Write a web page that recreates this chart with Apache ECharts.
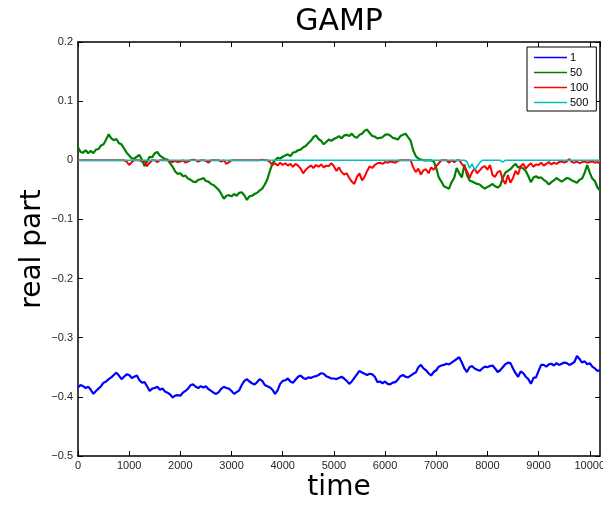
<!DOCTYPE html>
<html>
<head>
<meta charset="utf-8">
<script src="https://cdn.jsdelivr.net/npm/echarts@6/dist/echarts.min.js"></script>
<style>html,body{margin:0;padding:0;background:#fff;overflow:hidden}#c{width:603px;height:506px}</style>
</head>
<body>
<div id="c"></div>
<script>
// sampling step of the traces (time units)
const step = 50;
const seriesNames = ['1', '50', '100', '500'];
const xTicks = [0, 1000, 2000, 3000, 4000, 5000, 6000, 7000, 8000, 9000, 10000];
const yTicks = [-0.5, -0.4, -0.3, -0.2, -0.1, 0, 0.1, 0.2];

// series "1" (blue)
const s1 = [
  -0.384, -0.380, -0.382, -0.385, -0.383, -0.388, -0.395, -0.390, -0.386, -0.382,
  -0.376, -0.374, -0.370, -0.367, -0.363, -0.359, -0.364, -0.370, -0.366, -0.362,
  -0.363, -0.368, -0.366, -0.364, -0.372, -0.376, -0.375, -0.382, -0.390, -0.386,
  -0.385, -0.383, -0.388, -0.386, -0.391, -0.393, -0.396, -0.401, -0.398, -0.397,
  -0.398, -0.393, -0.390, -0.386, -0.380, -0.379, -0.383, -0.385, -0.382, -0.384,
  -0.382, -0.387, -0.390, -0.393, -0.395, -0.392, -0.386, -0.383, -0.385, -0.386,
  -0.390, -0.395, -0.392, -0.389, -0.380, -0.373, -0.370, -0.374, -0.377, -0.379,
  -0.375, -0.370, -0.373, -0.380, -0.382, -0.384, -0.388, -0.395, -0.389, -0.378,
  -0.373, -0.372, -0.369, -0.374, -0.376, -0.371, -0.366, -0.364, -0.368, -0.370,
  -0.367, -0.368, -0.366, -0.365, -0.363, -0.360, -0.361, -0.365, -0.367, -0.369,
  -0.369, -0.370, -0.368, -0.366, -0.369, -0.373, -0.378, -0.374, -0.368, -0.362,
  -0.356, -0.359, -0.361, -0.363, -0.361, -0.362, -0.366, -0.375, -0.374, -0.377,
  -0.374, -0.378, -0.379, -0.376, -0.375, -0.371, -0.365, -0.363, -0.366, -0.367,
  -0.364, -0.361, -0.359, -0.350, -0.346, -0.352, -0.355, -0.360, -0.364, -0.358,
  -0.355, -0.349, -0.347, -0.346, -0.344, -0.345, -0.342, -0.339, -0.336, -0.333,
  -0.342, -0.352, -0.358, -0.350, -0.348, -0.352, -0.354, -0.356, -0.352, -0.349,
  -0.350, -0.348, -0.347, -0.352, -0.358, -0.355, -0.350, -0.345, -0.342, -0.343,
  -0.352, -0.360, -0.366, -0.357, -0.360, -0.366, -0.370, -0.378, -0.368, -0.367,
  -0.356, -0.346, -0.346, -0.349, -0.345, -0.344, -0.347, -0.343, -0.346, -0.344,
  -0.342, -0.343, -0.346, -0.344, -0.341, -0.331, -0.336, -0.342, -0.340, -0.345,
  -0.343, -0.349, -0.352, -0.356, -0.355
];

// series "50" (green)
const s50 = [
  0.022, 0.014, 0.013, 0.017, 0.012, 0.016, 0.012, 0.018, 0.019, 0.025,
  0.027, 0.035, 0.044, 0.037, 0.034, 0.036, 0.029, 0.027, 0.020, 0.013,
  0.008, 0.003, 0.003, 0.006, 0.009, 0.001, -0.010, -0.002, 0.006, 0.005,
  0.012, 0.014, 0.008, 0.005, 0.002, 0.001, -0.005, -0.011, -0.019, -0.023,
  -0.022, -0.027, -0.026, -0.031, -0.033, -0.036, -0.037, -0.033, -0.032, -0.030,
  -0.035, -0.036, -0.040, -0.042, -0.046, -0.050, -0.057, -0.065, -0.060, -0.059,
  -0.061, -0.057, -0.060, -0.055, -0.054, -0.059, -0.067, -0.061, -0.060, -0.057,
  -0.055, -0.051, -0.048, -0.041, -0.032, -0.018, -0.005, 0.000, 0.004, 0.003,
  0.006, 0.008, 0.010, 0.007, 0.013, 0.014, 0.017, 0.018, 0.022, 0.024,
  0.029, 0.033, 0.039, 0.042, 0.036, 0.033, 0.027, 0.031, 0.035, 0.033,
  0.036, 0.038, 0.041, 0.037, 0.042, 0.043, 0.041, 0.045, 0.040, 0.038,
  0.043, 0.045, 0.050, 0.052, 0.046, 0.041, 0.040, 0.037, 0.038, 0.039,
  0.043, 0.044, 0.042, 0.038, 0.037, 0.035, 0.041, 0.043, 0.045, 0.039,
  0.033, 0.017, 0.007, 0.003, 0.001, 0.000, 0.000, 0.000, 0.000, -0.002,
  -0.013, -0.029, -0.036, -0.044, -0.046, -0.048, -0.037, -0.030, -0.013, -0.022,
  -0.029, -0.007, -0.025, -0.034, -0.036, -0.038, -0.040, -0.041, -0.045, -0.048,
  -0.045, -0.043, -0.040, -0.044, -0.046, -0.043, -0.030, -0.021, -0.018, -0.015,
  -0.010, -0.006, -0.012, -0.011, -0.014, -0.018, -0.027, -0.037, -0.029, -0.027,
  -0.030, -0.029, -0.033, -0.036, -0.041, -0.037, -0.034, -0.030, -0.033, -0.036,
  -0.033, -0.030, -0.031, -0.034, -0.036, -0.038, -0.033, -0.031, -0.021, -0.008,
  -0.021, -0.031, -0.035, -0.046, -0.051
];

// series "100" (red)
const s100 = [
  0, 0, 0, 0, 0, 0, 0, 0, 0, 0,
  0, 0, 0, 0, 0, 0, 0, 0, 0, -0.002,
  -0.008, -0.003, 0, 0, 0, -0.002, -0.001, -0.010, -0.004, 0,
  0, -0.003, 0, 0, 0, 0, -0.002, -0.003, -0.001, -0.003,
  -0.002, 0, -0.004, -0.002, 0, 0.001, 0, -0.002, 0, 0,
  -0.001, -0.004, 0, 0, 0, 0, -0.002, 0, -0.006, -0.003,
  0, 0, 0, 0, 0, 0, 0, 0, 0, 0,
  0, 0, 0.001, 0, 0, -0.003, -0.008, -0.005, -0.009, -0.004,
  -0.008, -0.005, -0.009, -0.006, -0.011, -0.006, -0.009, -0.014, -0.022, -0.016,
  -0.012, -0.009, -0.013, -0.008, -0.011, -0.007, -0.012, -0.009, -0.010, -0.005,
  -0.010, -0.018, -0.012, -0.020, -0.024, -0.022, -0.030, -0.036, -0.040, -0.028,
  -0.022, -0.034, -0.028, -0.018, -0.010, -0.013, -0.008, -0.005, -0.004, -0.006,
  -0.003, -0.004, -0.002, -0.003, -0.004, -0.001, 0, 0, 0, 0,
  0, -0.012, -0.020, -0.014, -0.024, -0.017, -0.015, -0.022, -0.012, -0.016,
  -0.010, -0.005, 0, 0, 0, -0.004, 0, -0.003, 0, 0,
  -0.006, -0.011, -0.018, -0.030, -0.020, -0.014, -0.022, -0.017, -0.012, -0.010,
  -0.016, -0.008, -0.025, -0.028, -0.020, -0.018, -0.033, -0.040, -0.025, -0.038,
  -0.030, -0.018, -0.024, -0.010, -0.006, -0.014, -0.009, -0.005, -0.011, -0.007,
  -0.008, -0.004, -0.009, -0.006, -0.003, -0.007, -0.004, -0.006, -0.003, -0.002,
  -0.004, -0.002, 0.002, -0.003, -0.004, -0.002, -0.005, -0.003, -0.002, -0.004,
  -0.003, -0.002, -0.004, -0.003, -0.005
];

// series "500" (cyan)
const s500 = [
  0, 0, 0, 0, 0, 0, 0, 0, 0, 0,
  0, 0, 0, 0, 0, 0, 0, 0, 0, 0,
  0, 0, 0, 0, 0, 0, 0, 0, 0, 0,
  0, 0, 0, 0, 0, 0, 0, 0, 0, 0,
  0, 0, 0, 0, 0, 0, 0, 0, 0, 0,
  0, 0, 0, 0, 0, 0, 0, 0, 0, 0,
  0, 0, 0, 0, 0, 0, 0, 0, 0, 0,
  0, 0, 0, 0, 0, 0, 0, 0, 0, 0,
  0, 0, 0, 0, 0, 0, 0, 0, 0, 0,
  0, 0, 0, 0, 0, 0, 0, 0, 0, 0,
  0, 0, 0, 0, 0, 0, 0, 0, 0, 0,
  0, 0, 0, 0, 0, 0, 0, 0, 0, 0,
  0, 0, 0, 0, 0, 0, 0, 0, 0, 0,
  0, 0, 0, 0, 0, 0, 0, 0, 0, 0,
  0, 0, 0, 0, 0, 0, 0, 0, 0, 0,
  0, 0, -0.002, -0.013, -0.006, -0.016, -0.010, -0.004, 0, 0,
  0, 0, 0, 0, 0, 0, -0.003, 0, 0, 0,
  0, 0, 0, 0, 0, 0, 0, 0, 0, 0,
  0, 0, 0, 0, 0, 0, 0, 0, 0, 0,
  0, 0, 0, 0, 0, 0, 0, 0, 0, 0,
  0, 0, 0, 0, 0
];

const colors = ['#0000ff', '#008000', '#ff0000', '#00bfbf'];
const allValues = [s1, s50, s100, s500];
const widths = [2.2, 2.2, 2, 1.6];

function pairs(vals) { return vals.map((v, i) => [i * step, v]); }
function fmtY(v) {
  const r = Math.round(v * 10) / 10;
  if (r === 0) return '0';
  return String(r).replace('-', '\u2212');
}

const chart = echarts.init(document.getElementById('c'), null, { renderer: 'canvas' });
const labelFont = { fontFamily: 'Liberation Sans, Arial, sans-serif', fontSize: 11, color: '#262626' };
const axisLine = { show: true, onZero: false, lineStyle: { color: '#000', width: 1.5 } };
const tick = { show: true, inside: true, length: 5, lineStyle: { color: '#000', width: 1 } };

chart.setOption({
  animation: false,
  backgroundColor: '#fff',
  grid: { left: 78, right: 3, top: 42, bottom: 50, containLabel: false, outerBoundsMode: 'none' },
  xAxis: [
    { type: 'value', min: 0, max: 10200, interval: 1000, position: 'bottom',
      axisLine: axisLine, axisTick: tick, splitLine: { show: false },
      axisLabel: Object.assign({ margin: 4, showMaxLabel: false, hideOverlap: false,
        formatter: v => (xTicks.indexOf(v) >= 0 ? String(v) : '') }, labelFont) },
    { type: 'value', min: 0, max: 10200, interval: 1000, position: 'top',
      axisLine: axisLine, axisTick: tick, splitLine: { show: false }, axisLabel: { show: false } }
  ],
  yAxis: [
    { type: 'value', min: -0.5, max: 0.2, interval: 0.1, position: 'left',
      axisLine: axisLine, axisTick: tick, splitLine: { show: false },
      axisLabel: Object.assign({ margin: 5, formatter: v => fmtY(v) }, labelFont) },
    { type: 'value', min: -0.5, max: 0.2, interval: 0.1, position: 'right',
      axisLine: axisLine, axisTick: tick, splitLine: { show: false }, axisLabel: { show: false } }
  ],
  legend: {
    orient: 'vertical', left: 527, top: 47,
    data: seriesNames.map((n, k) => ({ name: n, icon: 'rect', itemStyle: { color: colors[k], borderWidth: 0, opacity: 1 } })),
    backgroundColor: '#fff', borderColor: '#000', borderWidth: 1,
    padding: [4, 8, 2, 7], itemGap: 2, itemWidth: 33, itemHeight: 1.5,
    textStyle: { fontFamily: 'Liberation Sans, Arial, sans-serif', fontSize: 11, color: '#000', lineHeight: 13, padding: [0, 0, 0, -2] }
  },
  series: allValues.map((vals, k) => ({
    name: seriesNames[k], type: 'line', data: pairs(vals),
    showSymbol: false, symbol: 'none', clip: true, color: colors[k],
    lineStyle: { color: colors[k], width: widths[k] },
    itemStyle: { color: colors[k] },
    z: 2 + k
  })),
  graphic: [
    { type: 'text', x: 339, y: 22, style: { text: 'GAMP', fontFamily: 'DejaVu Sans', fontSize: 30, fill: '#000', align: 'center', verticalAlign: 'middle' } },
    { type: 'text', x: 339, y: 488, style: { text: 'time', fontFamily: 'DejaVu Sans', fontSize: 28, fill: '#000', align: 'center', verticalAlign: 'middle' } },
    { type: 'text', x: 33, y: 249, rotation: Math.PI / 2, style: { text: 'real part', fontFamily: 'DejaVu Sans', fontSize: 28, fill: '#000', align: 'center', verticalAlign: 'middle' } }
  ]
});
</script>
</body>
</html>
